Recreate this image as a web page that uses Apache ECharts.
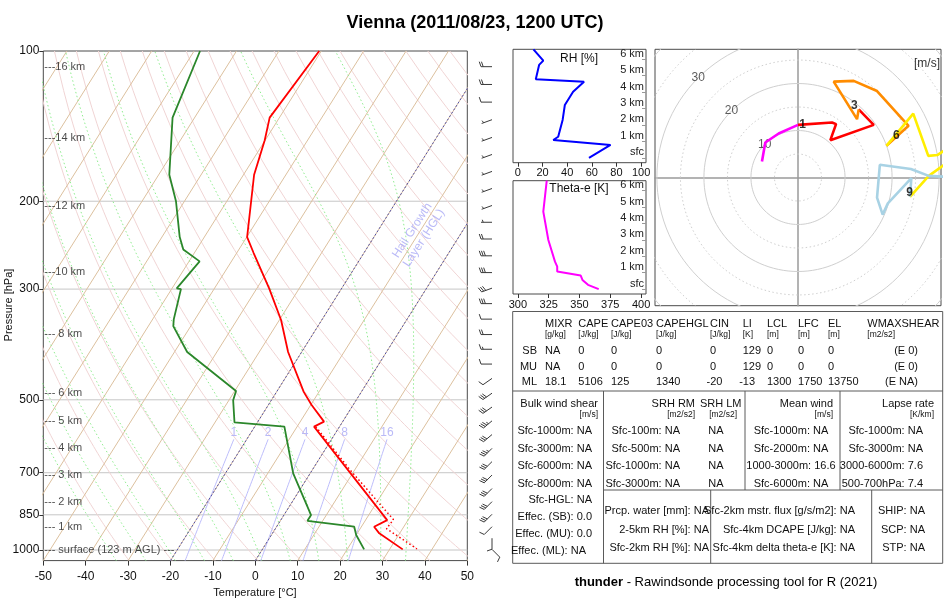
<!DOCTYPE html>
<html><head><meta charset="utf-8">
<script src="https://cdn.jsdelivr.net/npm/echarts@6/dist/echarts.min.js"></script>
<style>html,body{margin:0;padding:0;background:#fff}#c{width:950px;height:600px}</style>
</head><body><div id="c"></div>
<script>
// ---------------- DATA ----------------
const titleText = 'Vienna (2011/08/23, 1200 UTC)';
// temperature profile (hPa, degC)
const tempP = [100,136,151,177,236,254,299,346,401,482,512,553,566,871,898,926,997];
const tempT = [-60.5,-62.3,-60.1,-57.5,-49.9,-46.0,-37.1,-29.6,-23.2,-13.6,-9.8,-4.4,-6.0,25.1,23.0,25.2,33.1];
// dewpoint profile
const dewP = [100,136,177,200,236,250,264,299,300,345,356,401,480,501,555,566,702,851,874,898,933,997];
const dewT = [-88.6,-85.2,-77.5,-72.0,-65.8,-63.1,-57.5,-58.9,-57.8,-55.0,-54.1,-47.0,-29.7,-29.0,-25.4,-13.0,-4.0,6.4,6.4,18.3,20.0,24.0];
// virtual temperature (dotted)
const virtP = [566,691,869,906,995];
const virtT = [-5.6,8.9,26.5,26.2,36.4];
// axes
const pressTicks = [100,200,300,500,700,850,1000];
const pressLines = [200,300,500,700,850,1000];
const isoTemps = [-130,-120,-110,-100,-90,-80,-70,-60,-50,-40,-30,-20,-10,0,10,20,30,40,50];
const dryThetas = [240,250,260,270,280,290,300,310,320,330,340,350,360,370,380,390,400,410,420,430,440,450,460,470,480,490,500,510,520];
const moistThetaW = [34,28,20,13,6,-1,-8,-15,-22,-29,-36];
const mixRatios = [1,2,4,8,16];
const hglTemps = [-20,0];
const kmLabels = ['---16 km','---14 km','---12 km','---10 km','--- 8 km','--- 6 km','--- 5 km','--- 4 km','--- 3 km','--- 2 km','--- 1 km','--- surface (123 m AGL) ---'];
const kmLabelP = [107.5,149.2,204.2,277.6,369.6,485.3,551.4,625.6,707.5,800.2,898.2,1000];
// wind barbs
const barbP = [107.5,116.7,126.6,137.3,149,161.2,174.3,188.6,204,220.4,238.1,257.3,278,298.7,320.8,344.6,370,396,424,453,485,517,551,587,625.6,665,707.5,753,800,848,898,947,997];
const barbDir = [270,270,270,250,250,250,250,250,250,270,270,270,270,250,270,270,270,270,270,235,235,235,230,230,225,225,225,225,225,225,225,180,135];
const barbKt = [20,20,10,3,3,3,3,3,3,3,20,30,30,30,30,10,20,15,10,10,30,30,35,30,35,30,30,30,30,30,10,10,10];
// RH profile (km, %)
const rhH = [6.60,5.91,5.65,4.78,4.63,4.02,3.21,2.30,1.28,1.08,0.78,0.0];
const rhV = [12.6,20.6,17.2,14.5,53.7,44.8,38.1,36.3,32.7,28.7,75.2,57.7];
// theta-e profile (km, K)
const teH = [6.60,4.72,4.62,2.99,1.67,1.37,1.07,0.82,0.56,0.26,0.0];
const teV = [323.4,320.6,321.2,324.7,330.1,331.9,331.9,351.0,352.4,356.9,365.6];
const kmTicks = [0,1,2,3,4,5,6];
const rhTicks = [0,20,40,60,80,100];
const teTicks = [300,325,350,375,400];
// hodograph (m/s)
const hodoMagU = [-7.66,-6.95,-4.11,0];
const hodoMagV = [3.40,7.45,9.36,11.2];
const hodoRedU = [0,7.23,8.09,6.88,16.1,12.9];
const hodoRedV = [11.2,11.7,11.35,7.94,11.2,14.5];
const hodoOrgU = [12.9,12.55,7.59,11.84,16.8,23.5,18.8];
const hodoOrgV = [14.5,12.41,20.4,20.57,18.4,11.0,6.74];
const hodoYelU = [18.8,24.5,27.7,29.7,31.5,31.5,27.8,23.8];
const hodoYelV = [6.74,13.6,4.6,4.8,6.0,3.0,0.35,-4.1];
const hodoBluU = [23.8,24.1,19.1,18.0,16.8,17.4,24.0,27.8,31.5];
const hodoBluV = [-4.1,-0.14,-5.5,-7.9,-4.3,2.7,1.8,0.35,0.14];
const hodoLabelText = ['1','3','6','9'];
const hodoLabelU = [1.0,12.0,20.9,23.7];
const hodoLabelV = [11.3,15.2,8.9,-3.2];
const ringRadii = [5,10,15,20,25,30,35,40];
const ringLabels = [10,20,30];
// parameter table
const thermoHeaders = ['MIXR','CAPE','CAPE03','CAPEHGL','CIN','LI','LCL','LFC','EL','WMAXSHEAR'];
const thermoUnits = ['[g/kg]','[J/kg]','[J/kg]','[J/kg]','[J/kg]','[K]','[m]','[m]','[m]','[m2/s2]'];
const thermoRowNames = ['SB','MU','ML'];
const thermoSB = ['NA','0','0','0','0','129','0','0','0','(E 0)'];
const thermoMU = ['NA','0','0','0','0','129','0','0','0','(E 0)'];
const thermoML = ['18.1','5106','125','1340','-20','-13','1300','1750','13750','(E NA)'];
const shearRows = ['Sfc-1000m: NA','Sfc-3000m: NA','Sfc-6000m: NA','Sfc-8000m: NA','Sfc-HGL: NA','Effec. (SB): 0.0','Effec. (MU): 0.0','Effec. (ML): NA'];
const srhRmRows = ['Sfc-100m: NA','Sfc-500m: NA','Sfc-1000m: NA','Sfc-3000m: NA'];
const srhLmRows = ['NA','NA','NA','NA'];
const meanWindRows = ['Sfc-1000m: NA','Sfc-2000m: NA','1000-3000m: 16.6','Sfc-6000m: NA'];
const lapseRows = ['Sfc-1000m: NA','Sfc-3000m: NA','3000-6000m: 7.6','500-700hPa: 7.4'];
const moistRows = ['Prcp. water [mm]: NA','2-5km RH [%]: NA','Sfc-2km RH [%]: NA'];
const fluxRows = ['Sfc-2km mstr. flux [g/s/m2]: NA','Sfc-4km DCAPE [J/kg]: NA','Sfc-4km delta theta-e [K]: NA'];
const compRows = ['SHIP: NA','SCP: NA','STP: NA'];

// ---------------- HELPERS ----------------
const FONT = '"Liberation Sans", Arial, Helvetica, sans-serif';
const LOG = Math.log10;
const SKEW = 74, PBOT = 1050, PTOP = 100;
const sx = (T, p) => T + SKEW * LOG(PBOT / p);
function satVap(Tc){ return 6.112 * Math.exp(17.67 * Tc / (Tc + 243.5)); }
function tdFromMix(w, p){ const e = w * p / (622 + w); const l = Math.log(e / 6.112); return 243.5 * l / (17.67 - l); }
function moistRate(TK, p){
  const e = satVap(TK - 273.15), rs = 0.622 * e / (p - e);
  return (287.04 * TK + 2.501e6 * rs) / (p * (1005.7 + 2.501e6 * 2.501e6 * rs * 0.622 / (287.04 * TK * TK)));
}
const series = [];
function addLine(g, pts, style, extra){
  series.push(Object.assign({type:'line', xAxisIndex:g, yAxisIndex:g, data:pts, symbol:'none', silent:true,
    animation:false, clip:true, lineStyle:style, z:2}, extra || {}));
}
function pRange(p0, p1, step){ const a = []; for (let p = p0; p >= p1 - 1e-9; p -= step) a.push(p); return a; }

// ---------------- MAIN SKEW-T (grid 0) ----------------
pressLines.forEach(p => addLine(0, [[-50, LOG(p)], [50, LOG(p)]], {color:'#c6c6c6', width:1}));
dryThetas.forEach(th => addLine(0, pRange(1050, 100, 10).map(p => [sx(th * Math.pow(p / 1000, 0.2857) - 273.15, p), LOG(p)]), {color:'#f0d4d4', width:1}));
isoTemps.forEach(T => addLine(0, [[sx(T, PBOT), LOG(PBOT)], [sx(T, PTOP), LOG(PTOP)]], {color:'#dcc09e', width:1}));
moistThetaW.forEach(tw => {
  let T = tw + 273.15;
  for (let p = 1000; p < 1050; p += 5){ const k1 = moistRate(T, p); const k2 = moistRate(T + 5 * k1, p + 5); T += 2.5 * (k1 + k2); }
  const pts = [];
  for (let p = 1050; p >= 100; p -= 5){
    pts.push([sx(T - 273.15, p), LOG(p)]);
    const k1 = moistRate(T, p); const k2 = moistRate(T - 5 * k1, p - 5); T -= 2.5 * (k1 + k2);
  }
  addLine(0, pts, {color:'#8fec8f', width:1, type:[1.5, 2.5]});
});
mixRatios.forEach(w => addLine(0, pRange(1050, 600, 10).map(p => [sx(tdFromMix(w, p), p), LOG(p)]), {color:'#bdbdfb', width:1}));
hglTemps.forEach(T => addLine(0, [[sx(T, PBOT), LOG(PBOT)], [sx(T, PTOP), LOG(PTOP)]], {color:'#5252a8', width:1, type:[2, 2]}));
// mixing ratio labels
series.push({type:'scatter', xAxisIndex:0, yAxisIndex:0, symbolSize:0, silent:true, animation:false, z:5,
  data: mixRatios.map(w => [sx(tdFromMix(w, 600), 600), LOG(581), w]),
  label:{show:true, position:'inside', formatter: p => p.value[2], color:'#a9a9f5', fontSize:12, fontFamily:FONT}});
// HGL label
series.push({type:'scatter', xAxisIndex:0, yAxisIndex:0, symbolSize:0, silent:true, animation:false, z:5,
  data:[[sx(-10, 233), LOG(233)]],
  label:{show:true, position:'inside', rotate:57, formatter:'Hail Growth\nLayer (HGL)', color:'#a9a9f5', fontSize:12, lineHeight:14, fontFamily:FONT, align:'center'}});
// altitude labels
series.push({type:'scatter', xAxisIndex:0, yAxisIndex:0, symbolSize:0, silent:true, animation:false, z:6,
  data: kmLabelP.map((p, i) => [-50, LOG(p), kmLabels[i]]),
  label:{show:true, position:'right', distance:1, formatter: p => p.value[2], color:'#1a1a1a', fontSize:11, fontFamily:FONT}});
// profiles
addLine(0, dewP.map((p, i) => [sx(dewT[i], p), LOG(p)]), {color:'#2b872b', width:1.8}, {z:8});
addLine(0, virtP.map((p, i) => [sx(virtT[i], p), LOG(p)]), {color:'#ff0000', width:1.5, type:[1.5, 2.5]}, {z:8});
addLine(0, tempP.map((p, i) => [sx(tempT[i], p), LOG(p)]), {color:'#ff0000', width:1.8}, {z:9});

// ---------------- WIND BARBS (grid 1) ----------------
series.push({type:'custom', xAxisIndex:1, yAxisIndex:1, silent:true, animation:false, z:5,
  data: barbP.map((p, i) => [0, LOG(p), barbDir[i], barbKt[i]]),
  renderItem: function(params, api){
    const pt = api.coord([api.value(0), api.value(1)]);
    const d = api.value(2) * Math.PI / 180, spd = api.value(3);
    const dx = Math.sin(d), dy = -Math.cos(d), px = -dy, py = dx;
    const L = 11, F = 5, G = 2.2, col = '#3a3a3a';
    const tip = [pt[0] + L * dx, pt[1] + L * dy];
    const ch = [{type:'line', shape:{x1:pt[0], y1:pt[1], x2:tip[0], y2:tip[1]}, style:{stroke:col, lineWidth:1}}];
    let rem = Math.round(spd / 5) * 5, pos = 0;
    while (rem >= 50){
      const b = [tip[0] - pos * dx, tip[1] - pos * dy], b2 = [b[0] - 2 * G * dx, b[1] - 2 * G * dy];
      ch.push({type:'polygon', shape:{points:[b, [b[0] + F * px, b[1] + F * py], b2]}, style:{fill:col}});
      pos += 2.5 * G; rem -= 50;
    }
    while (rem >= 10){
      const b = [tip[0] - pos * dx, tip[1] - pos * dy];
      ch.push({type:'line', shape:{x1:b[0], y1:b[1], x2:b[0] + F * (px + 0.35 * dx), y2:b[1] + F * (py + 0.35 * dy)}, style:{stroke:col, lineWidth:1}});
      pos += G; rem -= 10;
    }
    if (rem >= 5){
      if (pos === 0) pos = G;
      const b = [tip[0] - pos * dx, tip[1] - pos * dy];
      ch.push({type:'line', shape:{x1:b[0], y1:b[1], x2:b[0] + 0.5 * F * (px + 0.35 * dx), y2:b[1] + 0.5 * F * (py + 0.35 * dy)}, style:{stroke:col, lineWidth:1}});
    }
    return {type:'group', children:ch};
  }});

// ---------------- RH (grid 2) & THETA-E (grid 3) ----------------
addLine(2, rhH.map((h, i) => [rhV[i], h]), {color:'#0000ff', width:2}, {z:5});
addLine(3, teH.map((h, i) => [teV[i], h]), {color:'#ff00ff', width:2}, {z:5});

// ---------------- HODOGRAPH (grid 4) ----------------
ringRadii.forEach(r => {
  const pts = []; for (let a = 0; a <= 360; a += 3) pts.push([r * Math.cos(a * Math.PI / 180), r * Math.sin(a * Math.PI / 180)]);
  addLine(4, pts, {color:'#cfcfcf', width:1, type: r % 10 === 0 ? 'solid' : [1.5, 2.5]});
});
series.push({type:'scatter', xAxisIndex:4, yAxisIndex:4, symbolSize:0, silent:true, animation:false, z:4,
  data: ringLabels.map(r => [-r / Math.SQRT2, r / Math.SQRT2, r]),
  label:{show:true, position:'inside', formatter: p => p.value[2], color:'#333', fontSize:12, fontFamily:FONT}});
const hodoSegs = [[hodoMagU, hodoMagV, '#ff00ff'], [hodoRedU, hodoRedV, '#ff0000'], [hodoOrgU, hodoOrgV, '#ff8c00'], [hodoYelU, hodoYelV, '#ffee00'], [hodoBluU, hodoBluV, '#a8d2e4']];
hodoSegs.forEach(s => addLine(4, s[0].map((u, i) => [u, s[1][i]]), {color:s[2], width:2.6}, {z:6}));
series.push({type:'scatter', xAxisIndex:4, yAxisIndex:4, symbolSize:0, silent:true, animation:false, z:8,
  data: hodoLabelU.map((u, i) => [u, hodoLabelV[i], hodoLabelText[i]]),
  label:{show:true, position:'inside', formatter: p => p.value[2], color:'#000', fontWeight:'bold', fontSize:12, fontFamily:FONT}});

// ---------------- GRAPHIC TEXT / TABLE ----------------
const G = [];
function txt(x, y, text, o){
  o = o || {};
  G.push({type:'text', x:x, y:y, silent:true, z:100, rotation:o.rot || 0,
    style:{text:text, fontSize:o.size || 11, fontFamily:FONT, fontWeight:o.weight || 'normal', fill:o.color || '#111',
      align:o.align || 'left', verticalAlign:'middle', rich:o.rich}});
}
function ln(x1, y1, x2, y2){ G.push({type:'line', silent:true, z:90, shape:{x1, y1, x2, y2}, style:{stroke:'#5a5a5a', lineWidth:1}}); }
txt(475, 23, titleText, {size:18, weight:'bold', align:'center', color:'#000'});
txt(255, 593, 'Temperature [°C]', {align:'center', size:11});
txt(9, 305, 'Pressure [hPa]', {align:'center', size:11, rot:Math.PI / 2});
txt(579, 59, 'RH [%]', {align:'center', size:12});
txt(579, 189, 'Theta-e [K]', {align:'center', size:12});
txt(940, 64, '[m/s]', {align:'right', size:12, color:'#333'});
txt(726, 582, '{b|thunder} - Rawindsonde processing tool for R (2021)', {align:'center', size:13, color:'#000',
  rich:{b:{fontWeight:'bold', fontSize:13, fontFamily:FONT, fill:'#000'}}});
// table frame
const TX0 = 512.7, TX1 = 942.7, TY0 = 311.5, TY1 = 563.3, TYM = 391, TYL = 490;
ln(TX0, TY0, TX1, TY0); ln(TX0, TY1, TX1, TY1); ln(TX0, TY0, TX0, TY1); ln(TX1, TY0, TX1, TY1);
ln(TX0, TYM, TX1, TYM); ln(603.5, TYM, 603.5, TY1); ln(745, TYM, 745, TYL); ln(840, TYM, 840, TYL);
ln(603.5, TYL, TX1, TYL); ln(710.7, TYL, 710.7, TY1); ln(871.7, TYL, 871.7, TY1);
// thermo section
const colX = [545,578.3,611,656,710,742.7,767,798,828,867.3];
thermoHeaders.forEach((h, i) => { txt(colX[i], 324, h, {size:11}); txt(colX[i], 335, thermoUnits[i], {size:8.5}); });
[thermoSB, thermoMU, thermoML].forEach((row, r) => {
  const y = [351, 366.5, 382][r];
  txt(537, y, thermoRowNames[r], {align:'right', size:11});
  row.forEach((v, i) => {
    if (i === 9) txt(918, y, v, {align:'right', size:11});
    else txt(colX[i] - (v.charAt(0) === '-' ? 3.5 : 0), y, v, {size:11});
  });
});
// section 2 headers
txt(598, 404, 'Bulk wind shear', {align:'right'}); txt(598, 414.5, '[m/s]', {align:'right', size:8.5});
txt(695, 404, 'SRH RM', {align:'right'}); txt(695, 414.5, '[m2/s2]', {align:'right', size:8.5});
txt(741.5, 404, 'SRH LM', {align:'right'}); txt(737, 414.5, '[m2/s2]', {align:'right', size:8.5});
txt(833, 404, 'Mean wind', {align:'right'}); txt(833, 414.5, '[m/s]', {align:'right', size:8.5});
txt(934, 404, 'Lapse rate', {align:'right'}); txt(934, 414.5, '[K/km]', {align:'right', size:8.5});
const rowY = [431, 448.5, 466, 483.5, 499.5, 516.5, 534, 551];
shearRows.forEach((s, i) => txt(i === 7 ? 586 : 592, rowY[i], s, {align:'right'}));
srhRmRows.forEach((s, i) => txt(680, rowY[i], s, {align:'right'}));
srhLmRows.forEach((s, i) => txt(708.3, rowY[i], s));
meanWindRows.forEach((s, i) => txt(791, rowY[i], s, {align:'center'}));
lapseRows.forEach((s, i) => txt(923, rowY[i], s, {align:'right'}));
const lowY = [510.5, 530, 548];
moistRows.forEach((s, i) => txt(709, lowY[i], s, {align:'right'}));
fluxRows.forEach((s, i) => txt(855, lowY[i], s, {align:'right'}));
compRows.forEach((s, i) => txt(925, lowY[i], s, {align:'right'}));

// ---------------- OPTION ----------------
const hid = {show:false};
const kmAxis = (gi) => ({gridIndex:gi, type:'value', min:-0.3, max:6.6, position:'right',
  axisLine:{show:false, onZero:false}, splitLine:hid,
  axisTick:{show:true, inside:true, length:4, customValues:kmTicks, lineStyle:{color:'#999'}},
  axisLabel:{show:true, inside:true, margin:2, customValues:kmTicks, verticalAlign:'bottom',
    formatter: v => v === 0 ? 'sfc' : v + ' km', color:'#222', fontSize:11, fontFamily:FONT}});
const gridBase = {show:true, borderColor:'#4a4a4a', borderWidth:1, backgroundColor:'transparent', containLabel:false, outerBoundsMode:'none'};
const option = {
  animation:false,
  backgroundColor:'#ffffff',
  grid:[
    Object.assign({left:43.3, top:51, width:424, height:509.6}, gridBase),
    {left:480, top:51, width:24, height:509.6, show:false, containLabel:false, outerBoundsMode:'none'},
    Object.assign({left:513, top:49.3, width:133, height:113.4}, gridBase),
    Object.assign({left:513, top:180.7, width:133, height:113.3}, gridBase),
    Object.assign({left:655, top:49.3, width:286, height:256.4}, gridBase)
  ],
  xAxis:[
    {gridIndex:0, type:'value', min:-50, max:50, interval:10, position:'bottom', axisLine:{show:false, onZero:false}, splitLine:hid,
      axisTick:{show:true, length:5, lineStyle:{color:'#333'}},
      axisLabel:{fontSize:12, color:'#111', margin:10, fontFamily:FONT}},
    {gridIndex:1, type:'value', min:-1, max:1, show:false},
    {gridIndex:2, type:'value', min:-4, max:104, position:'bottom', axisLine:{show:false, onZero:false}, splitLine:hid,
      axisTick:{show:true, length:4, customValues:rhTicks, lineStyle:{color:'#333'}},
      axisLabel:{customValues:rhTicks, fontSize:11, color:'#111', margin:5, fontFamily:FONT}},
    {gridIndex:3, type:'value', min:296, max:404, position:'bottom', axisLine:{show:false, onZero:false}, splitLine:hid,
      axisTick:{show:true, length:4, customValues:teTicks, lineStyle:{color:'#333'}},
      axisLabel:{customValues:teTicks, fontSize:11, color:'#111', margin:5, fontFamily:FONT}},
    {gridIndex:4, type:'value', min:-30.4, max:30.4, axisLine:{show:true, onZero:true, lineStyle:{color:'#9a9a9a', width:1.5}},
      axisTick:hid, axisLabel:hid, splitLine:hid}
  ],
  yAxis:[
    {gridIndex:0, type:'value', min:LOG(PTOP), max:LOG(PBOT), inverse:true, position:'left', axisLine:{show:false, onZero:false}, splitLine:hid,
      axisTick:{show:true, length:4, customValues:pressTicks.map(LOG), lineStyle:{color:'#333'}},
      axisLabel:{customValues:pressTicks.map(LOG), formatter: v => String(Math.round(Math.pow(10, v))), fontSize:12, color:'#111', margin:4, fontFamily:FONT}},
    {gridIndex:1, type:'value', min:LOG(PTOP), max:LOG(PBOT), inverse:true, show:false},
    kmAxis(2),
    kmAxis(3),
    {gridIndex:4, type:'value', min:-27.28, max:27.28, axisLine:{show:true, onZero:true, lineStyle:{color:'#9a9a9a', width:1.5}},
      axisTick:hid, axisLabel:hid, splitLine:hid}
  ],
  series:series,
  graphic:G
};
const chart = echarts.init(document.getElementById('c'), null, {renderer:'canvas', width:950, height:600});
chart.setOption(option);
</script>
</body></html>
